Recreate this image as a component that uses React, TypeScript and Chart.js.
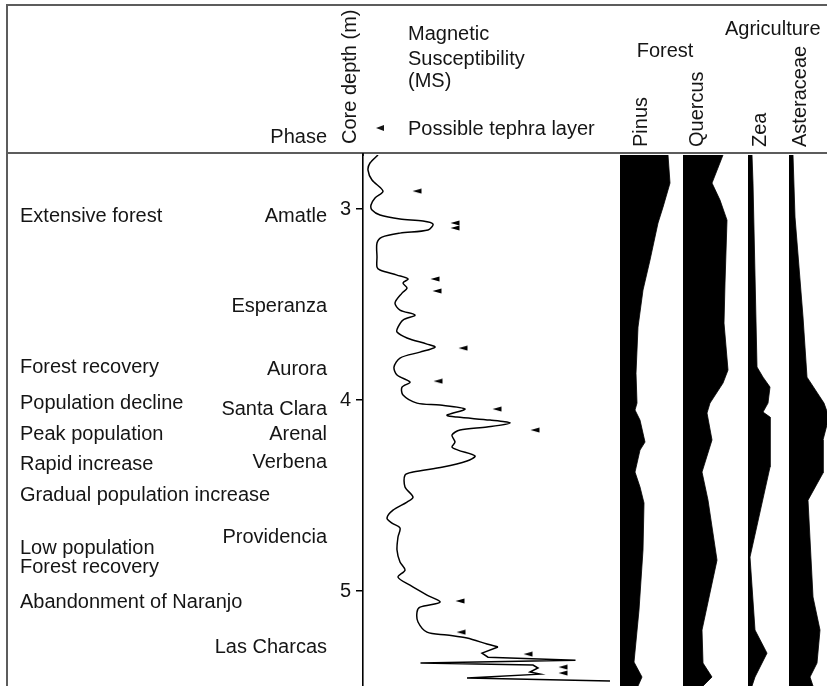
import React, { useEffect, useRef } from 'react';
import { Chart, registerables } from 'chart.js';

Chart.register(...registerables);

// ---------- data ----------
const depthTicks = [3, 4, 5];
const depthMin = 2.717;
const depthMax = 5.497;

// Magnetic susceptibility (relative units) vs core depth (m)
const msDepth = [
  2.717, 2.759, 2.796, 2.848, 2.906, 2.942, 2.979, 3.005, 3.031, 3.052,
  3.063, 3.079, 3.11, 3.126, 3.147, 3.178, 3.251, 3.304, 3.319, 3.346,
  3.366, 3.387, 3.414, 3.44, 3.492, 3.529, 3.555, 3.581, 3.618, 3.644,
  3.675, 3.707, 3.723, 3.749, 3.78, 3.827, 3.869, 3.906, 3.932, 3.974,
  4.016, 4.026, 4.047, 4.079, 4.089, 4.105, 4.12, 4.141, 4.157, 4.183,
  4.22, 4.246, 4.262, 4.293, 4.319, 4.351, 4.377, 4.393, 4.455, 4.508,
  4.534, 4.576, 4.618, 4.644, 4.67, 4.717, 4.785, 4.848, 4.89, 4.927,
  4.969, 5.021, 5.058, 5.084, 5.11, 5.162, 5.215, 5.23, 5.246, 5.277,
  5.293, 5.325, 5.346, 5.362, 5.377, 5.387, 5.403, 5.424, 5.435, 5.455,
  5.471,
];
const msValue = [
  6.0, 2.8, 2.0, 3.6, 8.0, 4.8, 3.2, 3.6, 6.8, 14.8,
  24.0, 28.0, 26.0, 14.8, 7.6, 5.6, 5.6, 5.6, 6.8, 13.6,
  18.0, 16.0, 17.6, 15.6, 12.8, 14.8, 20.8, 16.0, 14.0, 13.6,
  17.6, 25.6, 28.8, 22.8, 14.8, 12.4, 13.6, 18.8, 15.6, 16.0,
  21.6, 30.8, 40.8, 33.6, 37.6, 50.8, 58.8, 49.6, 38.8, 35.6,
  36.8, 35.6, 38.0, 44.8, 41.6, 32.0, 20.0, 16.8, 16.8, 20.0,
  17.6, 12.0, 9.6, 11.6, 14.8, 14.0, 13.6, 14.8, 16.8, 14.0,
  18.8, 25.6, 30.8, 22.8, 21.6, 22.0, 25.6, 33.6, 41.6, 49.6,
  54.0, 47.6, 50.0, 85.0, 23.0, 68.0, 70.0, 66.8, 70.8, 41.6,
  98.8,
];
// depth below which the record is drawn with straight spikes
const msSpikeStartDepth = 5.293;

// Possible tephra layers
const tephraDepth = [2.906, 3.073, 3.099, 3.366, 3.429, 3.728, 3.901, 4.047, 4.157, 5.052, 5.215, 5.33, 5.398, 5.429];
const tephraValue = [21.6, 36.8, 36.8, 28.8, 29.6, 40.0, 30.0, 53.6, 68.8, 38.8, 39.2, 66.0, 80.0, 80.0];

// Pollen (%)
const pinusDepth = [2.717, 2.864, 2.99, 3.073, 3.267, 3.424, 3.618, 3.859, 4.016, 4.052, 4.105, 4.22, 4.262, 4.377, 4.455, 4.539, 4.785, 5.099, 5.372, 5.45, 5.497];
const pinusPct = [48, 50, 43, 38, 30, 23, 18, 16, 17, 15, 20, 25, 20, 15, 20, 24, 23, 19, 14, 22, 18];

const quercusDepth = [2.717, 2.864, 2.953, 3.058, 3.387, 3.597, 3.843, 3.911, 4.016, 4.068, 4.209, 4.377, 4.524, 4.838, 5.204, 5.377, 5.45, 5.497];
const quercusPct = [40, 29, 37, 44, 42, 41, 45, 40, 27, 24, 29, 19, 25, 34, 19, 20, 29, 20];

const zeaDepth = [2.717, 2.864, 3.827, 3.88, 3.932, 4.016, 4.063, 4.089, 4.351, 4.822, 5.204, 5.325, 5.45, 5.497];
const zeaPct = [4, 5, 9, 15, 22, 20, 15, 22, 22, 2, 7, 19, 7, 4];

const asterDepth = [2.717, 3.042, 3.565, 3.88, 3.984, 4.016, 4.089, 4.209, 4.382, 4.524, 5.031, 5.204, 5.377, 5.45, 5.497];
const asterPct = [4, 6, 14, 18, 31, 35, 40, 34, 34, 19, 24, 31, 28, 21, 24];

// Labels
const phaseNames = ['Amatle', 'Esperanza', 'Aurora', 'Santa Clara', 'Arenal', 'Verbena', 'Providencia', 'Las Charcas'];
const phaseDepths = [3.03, 3.5, 3.83, 4.04, 4.17, 4.32, 4.71, 5.29];
const eventNames = ['Extensive forest', 'Forest recovery', 'Population decline', 'Peak population', 'Rapid increase', 'Gradual population increase', 'Low population', 'Forest recovery', 'Abandonment of Naranjo'];
const eventDepths = [3.03, 3.82, 4.01, 4.17, 4.33, 4.49, 4.77, 4.87, 5.05];

// ---------- layout ----------
const W = 827;
const H = 686;
const PLOT_LEFT = 363;
const PLOT_TOP = 155;
const PLOT_W = W - PLOT_LEFT;
const MS_PX = 2.5;
const PCT_PX = 1;
const FONT = '20px "Liberation Sans", Arial, sans-serif';
const TEXT = '#151515';
const FRAME = '#5c5c5c';

function colScale(left: number) {
  const min = -(left - PLOT_LEFT) / PCT_PX;
  return { type: 'linear', display: false, min, max: min + PLOT_W / PCT_PX };
}

function pts(depths: number[], vals: number[]) {
  return depths.map((d, i) => ({ x: vals[i], y: d }));
}

export default function App() {
  const ref = useRef<HTMLCanvasElement>(null);

  useEffect(() => {
    document.body.style.margin = '0';
    const canvas = ref.current!;

    const tri = document.createElement('canvas');
    tri.width = 10;
    tri.height = 6;
    const tc = tri.getContext('2d')!;
    tc.fillStyle = '#000';
    tc.beginPath();
    tc.moveTo(0.5, 3);
    tc.lineTo(9.5, 0.4);
    tc.lineTo(9.5, 5.6);
    tc.closePath();
    tc.fill();

    const decor = {
      id: 'decor',
      afterDraw(chart: any) {
        const ctx = chart.ctx as CanvasRenderingContext2D;
        const ys = chart.scales.y;
        ctx.save();
        ctx.strokeStyle = FRAME;
        ctx.lineWidth = 2;
        ctx.beginPath();
        ctx.moveTo(6, 5);
        ctx.lineTo(W, 5);
        ctx.moveTo(7, 4);
        ctx.lineTo(7, H);
        ctx.moveTo(6, 153);
        ctx.lineTo(W, 153);
        ctx.stroke();

        ctx.fillStyle = TEXT;
        ctx.font = FONT;
        ctx.textBaseline = 'alphabetic';
        ctx.textAlign = 'left';
        eventNames.forEach((t, i) => ctx.fillText(t, 20, ys.getPixelForValue(eventDepths[i]) + 7));
        ctx.textAlign = 'right';
        phaseNames.forEach((t, i) => ctx.fillText(t, 327, ys.getPixelForValue(phaseDepths[i]) + 7));

        // header
        ctx.fillText('Phase', 327, 143);
        ctx.textAlign = 'left';
        ctx.fillText('Magnetic', 408, 40);
        ctx.fillText('Susceptibility', 408, 65);
        ctx.fillText('(MS)', 408, 87);
        ctx.fillText('Possible tephra layer', 408, 135);
        ctx.fillText('Agriculture', 725, 35);
        ctx.textAlign = 'center';
        ctx.fillText('Forest', 665, 57);

        ctx.beginPath();
        ctx.moveTo(376, 128);
        ctx.lineTo(384, 125);
        ctx.lineTo(384, 131);
        ctx.closePath();
        ctx.fill();

        const rotated: [string, number, number][] = [
          ['Core depth (m)', 356, 144],
          ['Pinus', 647, 147],
          ['Quercus', 703, 147],
          ['Zea', 766, 147],
          ['Asteraceae', 806, 147],
        ];
        ctx.textAlign = 'left';
        rotated.forEach(([t, x, y]) => {
          ctx.save();
          ctx.translate(x, y);
          ctx.rotate(-Math.PI / 2);
          ctx.fillText(t, 0, 0);
          ctx.restore();
        });

        // axis line reaches the header rule
        ctx.strokeStyle = '#000';
        ctx.lineWidth = 1.6;
        ctx.beginPath();
        ctx.moveTo(chart.chartArea.left, 153);
        ctx.lineTo(chart.chartArea.left, chart.chartArea.top + 1);
        ctx.stroke();
        ctx.restore();
      },
    };

    const pollen = (data: any, axis: string) => ({
      data,
      xAxisID: axis,
      yAxisID: 'y',
      borderColor: '#000',
      borderWidth: 0.8,
      backgroundColor: '#000',
      fill: 'origin',
      pointRadius: 0,
      tension: 0,
    });

    const msAll = pts(msDepth, msValue);
    const splitIdx = msDepth.indexOf(msSpikeStartDepth);
    const msLine = (data: any, tension: number) => ({
      data,
      xAxisID: 'xMS',
      yAxisID: 'y',
      borderColor: '#000',
      borderWidth: 1.5,
      pointRadius: 0,
      tension,
      fill: false,
    });

    const chart = new Chart(canvas, {
      type: 'line',
      data: {
        datasets: [
          msLine(msAll.slice(0, splitIdx + 1), 0.3),
          msLine(msAll.slice(splitIdx), 0),
          {
            data: pts(tephraDepth, tephraValue),
            xAxisID: 'xMS',
            yAxisID: 'y',
            showLine: false,
            pointStyle: tri as any,
            pointRadius: 5,
            backgroundColor: '#000',
            borderWidth: 0,
          },
          pollen(pts(pinusDepth, pinusPct), 'xPinus'),
          pollen(pts(quercusDepth, quercusPct), 'xQuercus'),
          pollen(pts(zeaDepth, zeaPct), 'xZea'),
          pollen(pts(asterDepth, asterPct), 'xAster'),
        ] as any,
      },
      options: {
        animation: false,
        responsive: false,
        indexAxis: 'y',
        layout: { autoPadding: false, padding: { top: PLOT_TOP, left: 0, right: 0, bottom: 0 } },
        plugins: {
          legend: { display: false },
          tooltip: { enabled: false },
          title: { display: false },
        },
        scales: {
          y: {
            type: 'linear',
            position: 'left',
            reverse: true,
            min: depthMin,
            max: depthMax,
            afterBuildTicks: (s: any) => {
              s.ticks = depthTicks.map((v) => ({ value: v }));
            },
            afterFit: (s: any) => {
              s.width = PLOT_LEFT;
              s.paddingTop = 0;
              s.paddingBottom = 0;
            },
            grid: { drawOnChartArea: false, drawTicks: true, tickLength: 7, color: '#000', lineWidth: 1.5 },
            border: { display: true, color: '#000', width: 1.6 },
            ticks: { color: TEXT, font: { family: '"Liberation Sans", Arial, sans-serif', size: 20 }, padding: 5 },
          },
          xMS: { type: 'linear', display: false, min: 0, max: PLOT_W / MS_PX },
          xPinus: colScale(620),
          xQuercus: colScale(683),
          xZea: colScale(748),
          xAster: colScale(789),
        } as any,
      },
      plugins: [decor],
    } as any);

    return () => chart.destroy();
  }, []);

  return (
    <div style={{ width: W, height: H, position: 'relative' }}>
      <canvas ref={ref} width={W} height={H} style={{ display: 'block', width: W, height: H }} />
    </div>
  );
}
